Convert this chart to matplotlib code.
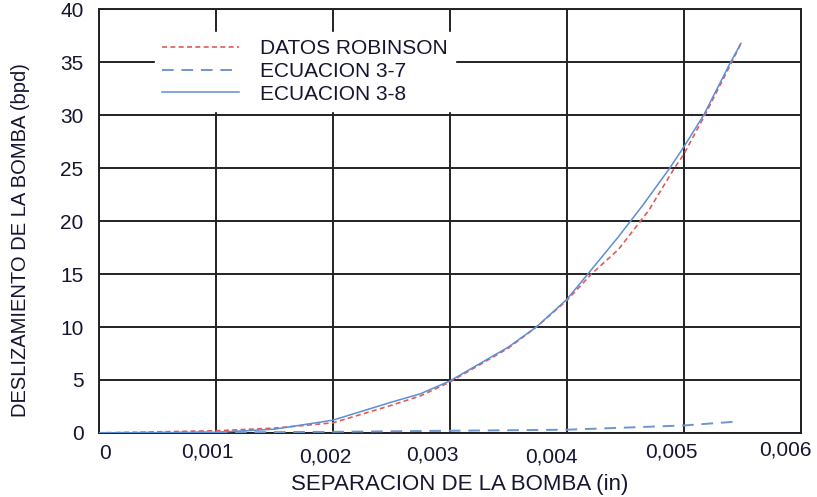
import numpy as np
import matplotlib
matplotlib.use("Agg")
from matplotlib import pyplot as plt
from matplotlib.transforms import ScaledTranslation

plt.rcParams['font.family'] = ['Liberation Sans', 'DejaVu Sans']

# datos
x_robinson = [0, 0.0005, 0.001, 0.0015, 0.002, 0.0025, 0.00275, 0.003, 0.0035, 0.00374,
              0.004, 0.00421, 0.00444, 0.0047, 0.00492, 0.005, 0.00518, 0.00541, 0.00549]
y_robinson = [0, 0.1, 0.2, 0.45, 0.95, 2.6, 3.5, 4.8, 8.0, 10,
              12.5, 15, 17.3, 21.0, 25, 26.3, 30, 35, 36.8]

x_ec37 = [0, 0.001, 0.002, 0.003, 0.004, 0.005, 0.00543]
y_ec37 = [0, 0.05, 0.1, 0.2, 0.3, 0.7, 1.05]

x_ec38 = [0, 0.0005, 0.001, 0.0015, 0.002, 0.0025, 0.00275, 0.003, 0.0035, 0.00374,
          0.004, 0.00418, 0.00444, 0.00465, 0.00488, 0.005, 0.00517, 0.0054, 0.00549]
y_ec38 = [0, 0.02, 0.05, 0.35, 1.2, 2.9, 3.7, 4.9, 8.1, 10,
          12.6, 15, 18.5, 21.5, 25, 27.0, 30, 35, 36.8]

x_ticks = [0, 0.001, 0.002, 0.003, 0.004, 0.005, 0.006]
x_ticklabels = ['0', '0,001', '0,002', '0,003', '0,004', '0,005', '0,006']
y_ticks = [0, 5, 10, 15, 20, 25, 30, 35, 40]

txt = '#151530'

fig = plt.figure(figsize=(8.17, 4.97), dpi=100)
ax = fig.add_axes([0.121, 0.129, 0.859, 0.852])

ax.plot(x_robinson, y_robinson, color='#e05a5a', lw=1.2, dashes=(3, 2),
        label='DATOS ROBINSON', zorder=3)
ax.plot(x_ec37, y_ec37, color='#6f95d0', lw=1.4, dashes=(6, 4),
        label='ECUACION 3-7', zorder=3)
ax.plot(x_ec38, y_ec38, color='#5b8ed6', lw=1.1,
        label='ECUACION 3-8', zorder=3)

ax.set_xlim(0, 0.006)
ax.set_ylim(0, 40)
ax.set_xticks(x_ticks)
ax.set_xticklabels(x_ticklabels)
ax.set_yticks(y_ticks)
ax.tick_params(axis='both', length=0, labelsize=15, colors=txt)
ax.tick_params(axis='x', pad=8)
ax.tick_params(axis='y', pad=11)

# las etiquetas del eje x estan algo corridas en el original
dx = [6, -8, -7, -17, -15, -12, -15]
dy = [0, 1, -4, -2, -4, 1, 3]
for lab, a, b in zip(ax.get_xticklabels(), dx, dy):
    lab.set_transform(lab.get_transform() + ScaledTranslation(a / 100, b / 100, fig.dpi_scale_trans))

ax.grid(True, color='#222222', lw=1.4)
for s in ax.spines.values():
    s.set_color('#222222')
    s.set_linewidth(1.4)

ax.set_xlabel('SEPARACION DE LA BOMBA (in)', fontsize=16, color=txt)
ax.set_ylabel('DESLIZAMIENTO DE LA BOMBA (bpd)', fontsize=14.5, color=txt)
ax.xaxis.set_label_coords(0.514, -0.098)
ax.yaxis.set_label_coords(-0.098, 0.455)

leg = ax.legend(loc='upper left', bbox_to_anchor=(0.08, 0.947), borderaxespad=0,
                fontsize=15, handlelength=3.7, handletextpad=1.0,
                labelspacing=0.18, frameon=True, fancybox=False,
                facecolor='white', edgecolor='white', framealpha=1,
                borderpad=0.35)
for t in leg.get_texts():
    t.set_color(txt)

fig.savefig('out.png', dpi=100)
